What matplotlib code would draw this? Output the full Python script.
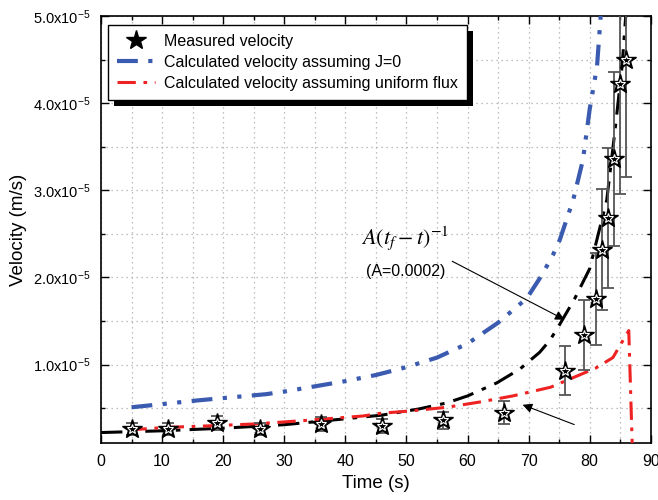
import matplotlib
matplotlib.use('Agg')
import matplotlib.pyplot as plt
from matplotlib.patches import Rectangle
from matplotlib.ticker import MultipleLocator, FixedLocator

plt.rcParams['font.family'] = ['Liberation Sans', 'DejaVu Sans']

# velocities are in units of 1e-5 m/s
t_meas = [5, 11, 19, 26, 36, 46, 56, 66, 76, 79, 81, 82, 83, 84, 85, 86]
v_meas = [0.26, 0.26, 0.33, 0.26, 0.32, 0.30, 0.36, 0.45, 0.93, 1.34, 1.75, 2.32, 2.68, 3.36, 4.22, 4.50]
v_err = [0.07, 0.07, 0.08, 0.07, 0.08, 0.08, 0.10, 0.13, 0.28, 0.40, 0.53, 0.69, 0.80, 1.00, 1.26, 1.35]

t_j0 = [5, 16, 27, 30, 40, 45, 50, 55, 60, 65, 69.7, 72.2, 74, 75.1, 77.3, 78.9, 80, 81.2, 81.8, 82.3]
v_j0 = [0.51, 0.59, 0.66, 0.69, 0.81, 0.88, 0.97, 1.08, 1.24, 1.48, 1.76, 2.03, 2.26, 2.43, 2.89, 3.35, 3.93, 4.42, 5.0, 5.6]

t_flux = [4.5, 11, 19, 25.5, 33.7, 42.9, 45.7, 51, 56.6, 62, 67.4, 73.6, 77.3, 81, 83.8, 86.4, 87.0]
v_flux = [0.25, 0.28, 0.30, 0.32, 0.36, 0.41, 0.44, 0.47, 0.51, 0.57, 0.64, 0.74, 0.85, 0.96, 1.08, 1.39, 0.0]

t_fit = [0, 10, 20, 30, 36, 46, 52, 56.6, 60, 64.8, 68.6, 71.8, 73.5, 75, 77.5, 80, 82.8, 84.1, 85.3, 85.9, 86.5]
v_fit = [0.22, 0.24, 0.27, 0.31, 0.35, 0.42, 0.49, 0.56, 0.64, 0.79, 0.95, 1.14, 1.28, 1.45, 1.75, 2.10, 2.89, 3.66, 4.42, 5.0, 5.6]

yt = [1, 2, 3, 4, 5]
ytick_labels = [r'$\mathregular{%.1fx10^{-5}}$' % v for v in yt]

sc = 1e-5
fig = plt.figure(figsize=(6.58, 5.0), dpi=100)
ax = fig.add_axes([0.1535, 0.114, 0.8355, 0.854])

ax.plot(t_fit, [v * sc for v in v_fit], color='black', lw=2.2, dashes=(7, 3, 1.5, 3), zorder=3)
ax.plot(t_j0, [v * sc for v in v_j0], color='#3a5bb0', lw=3, dashes=(5, 2.5, 1, 2.5, 1, 2.5),
        label='Calculated velocity assuming J=0', zorder=3)
ax.plot(t_flux, [v * sc for v in v_flux], color='#ee2222', lw=2.2, dashes=(6, 2.5, 1.2, 2.5),
        label='Calculated velocity assuming uniform flux', zorder=3)

ax.errorbar(t_meas, [v * sc for v in v_meas], yerr=[e * sc for e in v_err], fmt='none',
            ecolor='#555555', elinewidth=1.3, capsize=4.5, capthick=1.3, zorder=4)
ax.plot(t_meas, [v * sc for v in v_meas], ls='none', marker='*', ms=15, mfc='black', mec='black',
        label='Measured velocity', zorder=5)
ax.plot(t_meas, [v * sc for v in v_meas], ls='none', marker='*', ms=7, mfc='none', mec='white',
        mew=0.8, zorder=6)

ax.set_xlim(0, 90)
ax.set_ylim(0.1e-5, 5e-5)
ax.xaxis.set_major_locator(MultipleLocator(10))
ax.xaxis.set_minor_locator(MultipleLocator(5))
ax.yaxis.set_major_locator(FixedLocator([v * sc for v in yt]))
ax.yaxis.set_minor_locator(FixedLocator([v * sc for v in [0.5, 1.5, 2.5, 3.5, 4.5]]))
ax.set_yticklabels(ytick_labels)
ax.tick_params(which='both', direction='in', top=True, right=True)
ax.tick_params(axis='x', labelsize=11.5, pad=8)
ax.tick_params(axis='y', labelsize=10.5, pad=8)
ax.tick_params(which='major', length=6, width=1)
ax.tick_params(which='minor', length=3, width=1)
ax.grid(which='both', ls=(0, (1, 3)), color='#aaaaaa', lw=0.9)
ax.set_axisbelow(True)
for s in ax.spines.values():
    s.set_linewidth(1.2)

ax.set_xlabel('Time (s)', fontsize=13.5, labelpad=4)
ax.set_ylabel('Velocity (m/s)', fontsize=13.5, labelpad=4)

h, l = ax.get_legend_handles_labels()
order = [2, 0, 1]
leg = ax.legend([h[i] for i in order], [l[i] for i in order], loc='upper left',
                bbox_to_anchor=(0.013, 0.979), borderaxespad=0, fontsize=11.5, fancybox=False,
                edgecolor='black', framealpha=1, borderpad=0.55, labelspacing=0.38,
                handlelength=2.4, handletextpad=0.55)
leg.get_frame().set_linewidth(1.0)
leg.set_zorder(10)

ax.text(49.8, 2.45e-5, r'$A\left(t_f-t\right)^{-1}$', fontsize=16, ha='center', va='center',
        math_fontfamily='stix')
ax.text(49.8, 2.07e-5, '(A=0.0002)', fontsize=11.5, ha='center', va='center')
ax.annotate('', xy=(76.3, 1.5e-5), xytext=(57.1, 2.2e-5),
            arrowprops=dict(arrowstyle='-|>', color='black', lw=0.8, mutation_scale=14))
ax.annotate('', xy=(68.6, 0.55e-5), xytext=(77.9, 0.30e-5),
            arrowprops=dict(arrowstyle='-|>', color='black', lw=0.8, mutation_scale=14))

# thick black drop shadow behind the legend box
fig.canvas.draw()
bb = leg.get_window_extent()
shadow = Rectangle((bb.x0 + 6, bb.y0 - 6), bb.width, bb.height, transform=None,
                   facecolor='black', edgecolor='none', zorder=9)
ax.add_artist(shadow)

fig.savefig('out.png', dpi=100)
